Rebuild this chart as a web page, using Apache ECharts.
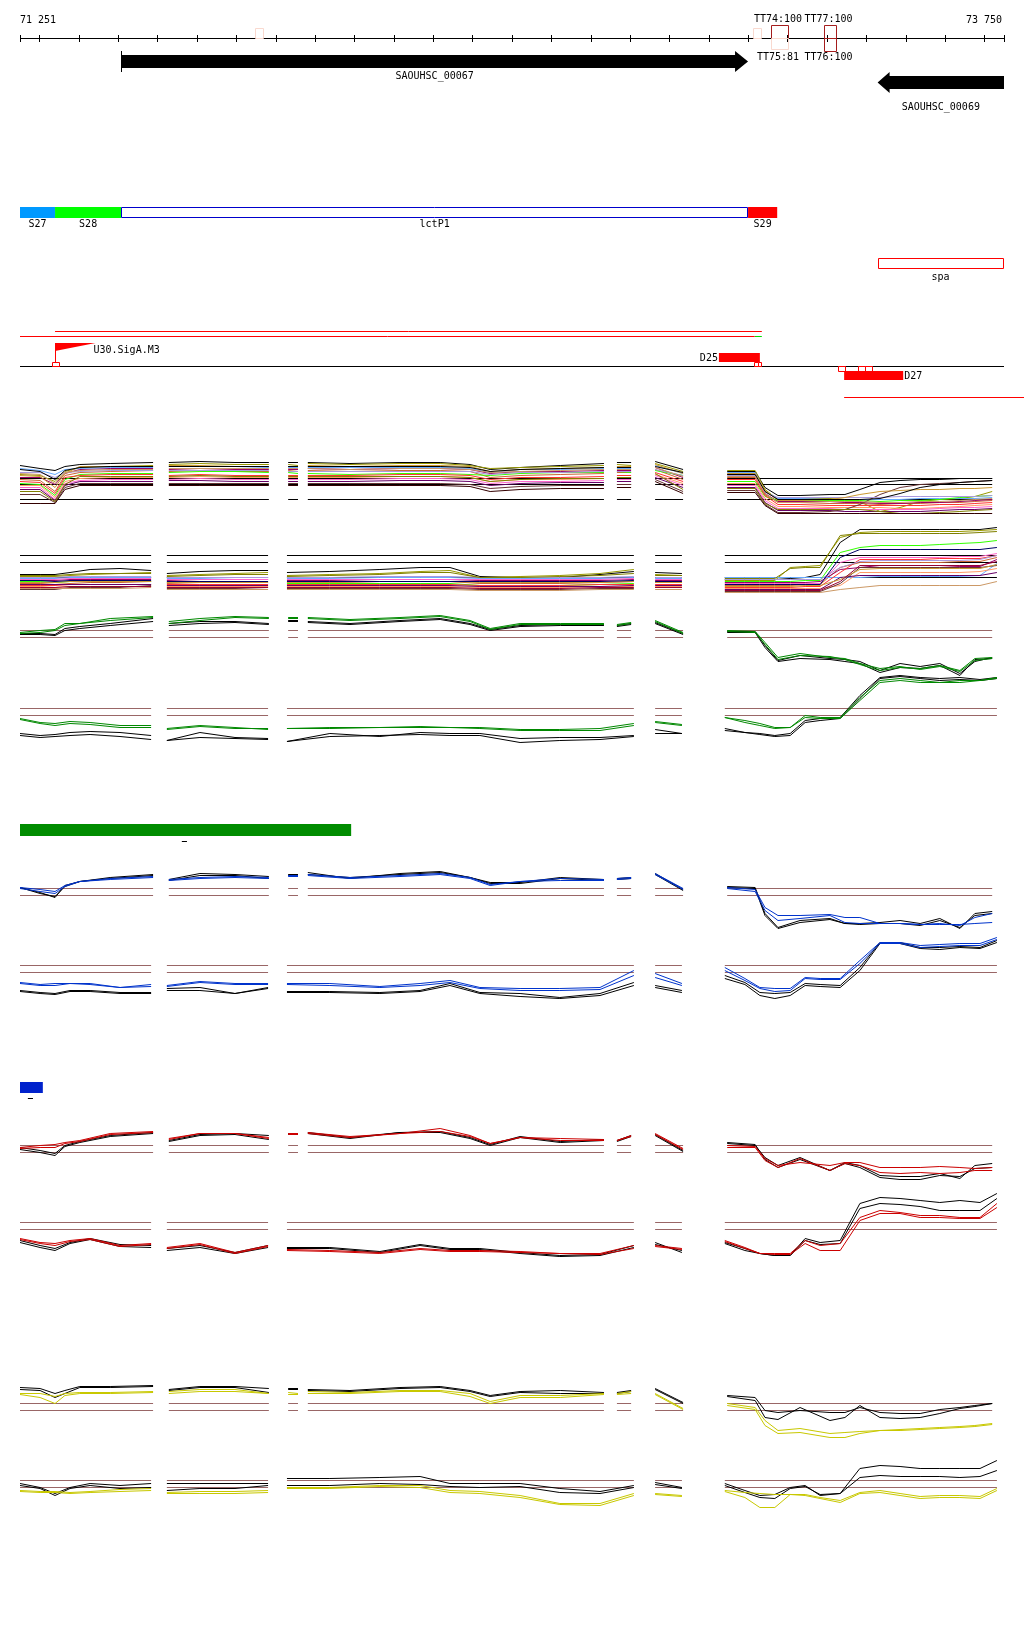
<!DOCTYPE html>
<html><head><meta charset="utf-8">
<script src="https://cdn.jsdelivr.net/npm/echarts@6/dist/echarts.min.js"></script>
<style>html,body{margin:0;padding:0;background:#fff}#c{width:1024px;height:1640px}</style>
</head><body><div id="c"></div><script>
// ---------------- DATA ----------------
const RANGE = [71251, 73750];
const RULER_TICKS = [71251,71300,71400,71500,71600,71700,71800,71900,72000,72100,72200,72300,72400,72500,72600,72700,72800,72900,73000,73100,73200,73300,73400,73500,73600,73700,73750];

const GENE_NAMES = ['SAOUHSC_00067', 'SAOUHSC_00069'];
const GENE_START = [71508, 73429];
const GENE_END = [73100, 73750];
const GENE_STRAND = [1, -1];

const TERM_NAMES = ['', '', 'TT74:100', 'TT75:81', 'TT77:100', 'TT76:100'];
const TERM_START = [71848, 73113, 73158, 73158, 73293, 73293];
const TERM_END = [71868, 73133, 73201, 73201, 73323, 73323];
const TERM_STRAND = [1, 1, 1, -1, 1, -1];
const TERM_SCORE = [67, 67, 100, 81, 100, 100];

const SEG_NAMES = ['S27', 'S28', 'lctP1', 'S29'];
const SEG_START = [71251, 71340, 71508, 73100];
const SEG_END = [71340, 71508, 73100, 73174];

const SPA_NAME = 'spa';
const SPA_RANGE = [73429, 73749];

const ANNOT_LINE_UPPER = [71340, 73135];
const ANNOT_LINE_LOWER = [71251, 73117];
const ANNOT_LINE_TAIL = [73117, 73135];

const PROMOTER_NAME = 'U30.SigA.M3';
const PROMOTER_POS = 71340;

const SITE_START = [71332, 73115, 73124, 73328, 73379, 73397];
const SITE_END = [71349, 73124, 73133, 73346, 73397, 73415];
const SITE_STRAND = [1, 1, 1, -1, -1, -1];

const DMS_NAMES = ['D25', 'D27'];
const DMS_START = [73026, 73344];
const DMS_END = [73130, 73494];
const DMS_STRAND = [1, -1];
const D27_TAIL = [73344, 73801];

const GREEN_BAR = [71251, 72092];
const GREEN_TICK = [71662, 71675];
const BLUE_BAR = [71251, 71309];
const BLUE_TICK = [71271, 71284];

// probe sample positions (bp); segments separated by gaps
const UPPER_X = [71251,71302,71340,71365,71403,71480,71589,
  71629,71708,71797,71883,
  71932,71957,
  71982,72089,72216,72318,72394,72445,72521,72623,72734,
  72767,72803,
  72864,72935,
  73047,73118,73143,73176,73232,73308,73346,73384,73435,73486,73537,73587,73638,73676,73720];
const UPPER_SEG_LEN = [7,4,2,9,2,2,15];
const LOWER_X = [71251,71302,71340,71378,71429,71505,71584,
  71624,71708,71797,71881,
  71929,72038,72165,72267,72343,72419,72521,72622,72724,72810,
  72864,72932,
  73041,73092,73130,73168,73207,73245,73283,73334,73384,73435,73486,73537,73587,73638,73689,73732];
const LOWER_SEG_LEN = [7,4,10,2,16];

// Panel A1 (upper strand, many conditions)
const A1_S01 = [34,31,29,33,35,36,37, 37,38,37,37, 37,37, 37,36,37,37,35,30,32,34,36, 37,37, 38,30, 28,28,12,4,4,5,5,10,17,19,20,20,21,21,21];
const A1_S02 = [25,24,18,28,32,33,34, 35,36,35,35, 35,34, 36,35,36,36,34,31,32,33,34, 35,34, 36,28, 29,29,10,0,1,1,0,-2,-12,-8,-2,0,1,3,8];
const A1_S03 = [20,19,8,24,27,28,29, 28,29,28,28, 29,28, 29,28,29,29,28,22,24,25,26, 27,27, 30,20, 22,22,5,-3,-3,-4,-4,-4,-5,-4,-4,-3,-3,-2,-1];
const A1_S04 = [22,22,15,26,30,31,31, 30,31,30,30, 30,30, 31,30,31,31,30,26,28,28,29, 29,29, 32,22, 25,25,6,-2,-2,-2,-3,-3,-4,-4,-3,-3,-2,-1,0];
const A1_S05 = [31,29,25,30,31,32,32, 33,33,33,32, 32,32, 32,32,32,32,31,27,30,30,31, 31,31, 34,26, 27,27,8,1,1,0,0,0,0,0,1,1,1,1,2];
const A1_S06 = [16,15,4,20,25,26,26, 27,28,28,27, 27,26, 26,25,26,26,25,24,26,27,27, 28,27, 29,24, 18,18,3,-1,-1,-1,-1,-1,-2,-1,-1,0,2,3,4];
const A1_S07 = [18,17,6,22,24,25,25, 24,25,24,24, 24,24, 24,24,25,25,24,20,22,22,23, 24,24, 27,18, 20,20,4,-5,-5,-6,-6,-6,-6,-6,-6,-5,-5,-4,-3];
const A1_S08 = [14,14,2,18,21,22,22, 22,23,22,22, 22,22, 22,22,23,23,22,18,20,20,21, 22,22, 25,16, 16,16,1,-7,-7,-8,-8,-8,-8,-9,-9,-8,-7,-6,-5];
const A1_S09 = [12,12,0,16,19,20,20, 20,21,20,20, 20,20, 20,20,21,21,20,16,18,18,19, 20,20, 24,14, 14,14,-1,-9,-9,-9,-10,-10,-10,-10,-10,-9,-8,-8,-7];
const A1_S10 = [10,10,-1,14,18,18,18, 19,19,18,18, 18,18, 18,18,19,19,18,14,16,17,17, 18,18, 22,12, 12,12,-3,-11,-11,-11,-12,-12,-12,-12,-12,-11,-10,-10,-9];
const A1_S11 = [5,5,-3,12,16,16,16, 16,16,16,16, 16,16, 16,16,16,16,15,11,13,14,14, 15,15, 20,8, 9,9,-5,-13,-13,-12,-10,-5,5,12,15,16,17,18,19];
const A1_S12 = [27,27,22,27,28,29,29, 29,29,29,29, 28,28, 28,28,28,28,28,25,27,27,28, 28,28, 30,24, 24,24,7,2,2,2,2,2,2,3,3,3,3,3,4];
const A1_S13 = [24,23,12,26,33,33,33, 34,34,33,33, 33,33, 34,33,34,34,33,28,30,31,32, 33,33, 35,26, 26,26,9,-1,-1,0,2,5,8,9,10,10,11,11,12];
const A1_S14 = [8,8,-2,15,23,23,23, 23,24,23,23, 23,23, 23,23,23,23,22,18,20,21,21, 22,22, 26,10, 11,11,-4,-10,-10,-10,-10,-10,-12,-14,-14,-13,-12,-11,-10];
const A1_S15 = [-4,-4,-4,10,14,14,14, 14,14,14,14, 14,14, 14,14,14,14,13,8,10,11,11, 12,12, 18,6, 7,7,-6,-14,-14,-14,-14,-14,-14,-14,-14,-14,-14,-14,-14];
const A1_S16 = [30,28,20,29,32,33,33, 33,33,33,33, 33,33, 33,33,33,33,32,28,30,31,32, 32,32, 33,27, 25,25,8,0,0,0,0,0,1,6,12,15,17,18,19];
const A1_S17 = [26,25,16,27,29,30,30, 31,31,31,31, 31,31, 31,30,31,31,30,27,28,29,30, 30,30, 32,23, 23,23,6,-3,-3,-2,-2,-2,-3,-3,-2,-2,-1,0,1];
const A1_REFS = [21, 15, 0];

// Panel A2 (lower strand, many conditions)
const A2_S01 = [3,3,3,5,8,9,7, 4,6,7,7, 5,6,8,10,10,1,0,0,3,6, 5,4, -2,-2,-2,-2,-1,0,3,35,48,48,48,48,48,48,48,50];
const A2_S02 = [1,1,1,2,3,4,5, 2,3,4,5, 2,3,4,6,7,0,1,2,4,8, 3,2, -3,-3,-3,-3,10,11,12,40,45,46,46,46,46,46,47,48];
const A2_S03 = [-6,-6,-7,-6,-5,-5,-4, -6,-5,-5,-5, -5,-5,-4,-4,-4,-6,-6,-6,-5,-4, -5,-5, -8,-8,-8,-8,-8,-7,-7,10,15,15,15,15,15,16,16,20];
const A2_S04 = [-3,-3,-3,-2,-2,-2,-2, -3,-2,-2,-2, -3,-3,-2,-2,-2,-3,-3,-3,-3,-2, -3,-3, -5,-5,-5,-5,-5,-5,-4,8,10,12,12,12,12,11,11,18];
const A2_S05 = [-1,-1,-1,0,0,0,0, -1,-1,0,0, -1,-1,0,0,0,-1,-1,-1,-1,0, -1,-1, 0,0,0,0,0,0,0,0,0,1,1,1,1,1,2,14];
const A2_S06 = [-4,-4,-5,-4,-4,-4,-4, -5,-4,-4,-4, -6,-6,-6,-6,-6,-8,-8,-8,-7,-6, -5,-5, -4,-4,-4,-4,-4,-3,-3,25,30,32,32,32,33,34,35,37];
const A2_S07 = [-8,-8,-8,-7,-7,-7,-7, -7,-7,-7,-7, -7,-7,-7,-7,-7,-8,-8,-8,-7,-7, -7,-7, -10,-10,-10,-10,-10,-9,-9,5,18,18,18,18,19,19,19,22];
const A2_S08 = [-9,-9,-10,-9,-9,-9,-9, -9,-9,-9,-9, -9,-9,-9,-9,-9,-10,-10,-10,-9,-9, -9,-9, -11,-11,-11,-11,-11,-11,-11,-8,5,5,5,5,5,5,6,9];
const A2_S09 = [-2,-2,-2,-1,-1,-1,-1, -2,-2,-2,-2, -2,-2,-2,-2,-2,-2,-2,-2,-2,-1, -2,-2, -6,-6,-6,-6,-6,-6,-6,15,20,20,20,20,20,21,21,24];
const A2_S10 = [-7,-7,-7,-7,-7,-7,-7, -8,-8,-8,-8, -8,-8,-8,-8,-8,-9,-9,-9,-9,-8, -8,-8, -12,-12,-12,-12,-12,-12,-12,0,2,2,2,2,2,2,2,5];
const A2_S11 = [-12,-12,-12,-10,-10,-10,-8, -11,-11,-11,-10, -11,-11,-11,-11,-11,-12,-12,-12,-11,-11, -10,-10, -14,-14,-14,-14,-14,-14,-14,-6,10,10,10,10,10,10,10,12];
const A2_S12 = [0,0,0,1,1,1,1, 0,0,0,0, 0,0,1,1,1,0,0,0,0,1, 0,0, -2,-2,-2,-2,-2,-2,-2,10,16,17,17,17,17,17,18,22];
const A2_S13 = [-5,-5,-5,-4,-4,-4,-4, -5,-5,-5,-5, -5,-5,-4,-4,-4,-5,-5,-5,-5,-4, -5,-5, -9,-9,-9,-9,-9,-8,-8,-2,8,9,9,9,9,9,9,13];
const A2_S14 = [2,2,2,3,4,4,4, 1,2,3,3, 1,2,3,5,5,0,0,1,2,4, 2,2, -1,-1,-1,-1,9,10,10,42,44,44,44,44,44,44,45,46];
const A2_S15 = [-10,-10,-10,-9,-9,-9,-9, -10,-10,-10,-10, -10,-10,-10,-10,-10,-11,-11,-11,-10,-10, -10,-10, -13,-13,-13,-13,-13,-13,-13,-4,12,12,12,12,12,12,12,16];
const A2_S16 = [-11,-11,-11,-11,-11,-11,-10, -12,-12,-12,-12, -12,-12,-12,-12,-12,-13,-13,-13,-12,-12, -12,-12, -15,-15,-15,-15,-15,-15,-15,-12,-10,-8,-8,-8,-8,-8,-8,-4];
const A2_S17 = [-3,-3,-4,-3,-3,-3,-3, -4,-4,-4,-4, -4,-4,-4,-4,-4,-4,-4,-4,-4,-3, -4,-4, -7,-7,-7,-7,-7,-7,-7,20,28,28,28,28,28,28,28,30];
const A2_REFS = [22, 15, 0];

// two-colour panels: thresholds
const THRESH = [7, 0];

// Panel B (green)
const B1_BLACK1 = [4,4,3,9,11,14,19, 14,16,16,14, 17,17, 16,14,17,19,14,8,12,13,13, 12,14, 15,4, 6,6,-8,-23,-18,-21,-22,-24,-33,-26,-29,-26,-36,-24,-20];
const B1_BLACK2 = [3,3,2,7,9,12,16, 12,14,15,13, 16,16, 15,13,16,18,13,7,11,12,12, 11,13, 14,3, 5,5,-10,-24,-21,-22,-24,-26,-35,-30,-31,-28,-38,-22,-21];
const B1_COL1 = [5,7,8,14,14,19,21, 16,19,21,20, 20,20, 20,18,20,22,17,9,14,14,14, 13,15, 17,5, 7,6,-5,-20,-16,-20,-21,-26,-31,-29,-32,-29,-34,-23,-21];
const B1_COL2 = [4,5,7,12,14,17,20, 14,17,20,19, 19,19, 19,17,19,21,16,8,13,13,13, 12,14, 16,4, 6,5,-7,-22,-18,-19,-22,-27,-33,-30,-31,-28,-33,-21,-20];
const B2_BLACK1 = [-18,-20,-19,-17,-16,-17,-20, -25,-17,-22,-23, -26,-18,-21,-17,-18,-18,-23,-22,-22,-20, -14,-18, -13,-17,-18,-20,-18,-5,-3,-2,20,38,40,38,37,38,36,38];
const B2_BLACK2 = [-20,-22,-21,-20,-19,-21,-24, -25,-22,-23,-24, -26,-21,-20,-19,-20,-20,-27,-25,-24,-21, -18,-18, -15,-17,-19,-21,-20,-7,-5,-3,17,37,39,37,35,36,35,37];
const B2_COL1 = [-3,-7,-8,-6,-7,-10,-10, -13,-10,-12,-14, -13,-12,-12,-11,-12,-12,-14,-14,-13,-8, -6,-9, -2,-5,-8,-12,-12,0,-2,-2,18,35,37,35,33,35,35,38];
const B2_COL2 = [-4,-8,-10,-8,-9,-12,-12, -14,-11,-13,-13, -13,-13,-12,-12,-12,-13,-15,-15,-15,-10, -7,-10, -2,-7,-10,-13,-12,-2,-3,-3,15,33,35,33,33,33,35,37];

// Panel C (blue)
const C1_BLACK1 = [8,3,-2,10,14,18,21, 16,22,21,19, 21,21, 23,17,22,24,18,13,13,18,16, 17,18, 22,6, 9,8,-18,-32,-25,-23,-28,-28,-27,-25,-28,-23,-33,-18,-16];
const C1_BLACK2 = [8,2,-1,9,14,17,20, 15,20,20,17, 20,20, 21,18,21,23,18,12,12,17,15, 16,17, 21,5, 8,7,-20,-33,-27,-24,-28,-29,-28,-28,-30,-25,-32,-20,-18];
const C1_COL1 = [8,6,4,10,14,17,19, 16,18,19,18, 20,20, 21,18,20,22,18,11,14,17,16, 17,18, 22,7, 8,6,-12,-20,-20,-19,-22,-22,-28,-28,-29,-29,-29,-28,-27];
const C1_COL2 = [7,4,2,9,14,16,18, 15,17,18,17, 19,19, 20,17,19,21,17,10,14,15,15, 16,17, 21,6, 7,4,-15,-25,-23,-20,-27,-28,-28,-28,-29,-28,-30,-22,-18];
const C2_BLACK1 = [-18,-20,-21,-18,-18,-20,-20, -16,-15,-21,-15, -19,-19,-20,-18,-11,-20,-21,-25,-21,-10, -13,-18, -3,-10,-20,-21,-20,-11,-12,-13,5,30,30,25,25,26,25,32];
const C2_BLACK2 = [-19,-21,-22,-19,-19,-21,-21, -18,-18,-21,-16, -20,-20,-21,-19,-13,-21,-24,-26,-23,-13, -15,-20, -6,-12,-23,-26,-23,-13,-14,-15,2,29,29,24,23,25,24,30];
const C2_COL1 = [-10,-12,-11,-11,-11,-15,-12, -13,-9,-11,-11, -11,-11,-14,-11,-8,-15,-16,-16,-15,2, -1,-11, 5,-6,-15,-16,-16,-5,-6,-6,12,30,30,27,28,29,29,35];
const C2_COL2 = [-11,-13,-13,-11,-12,-15,-14, -14,-10,-12,-12, -12,-13,-15,-13,-10,-16,-18,-18,-17,-3, -5,-13, 2,-8,-16,-19,-18,-6,-7,-7,9,29,29,25,26,27,27,33];

// Panel D (red)
const D1_BLACK1 = [5,2,-1,7,11,17,20, 12,18,19,17, 19,19, 20,15,20,21,15,8,16,11,13, 12,17, 18,2, 9,7,-5,-13,-5,-18,-10,-13,-23,-24,-24,-21,-26,-13,-11];
const D1_BLACK2 = [3,0,-3,6,10,16,19, 11,17,18,13, 18,18, 19,14,20,20,14,7,15,10,12, 11,16, 17,1, 10,8,-7,-15,-7,-18,-11,-15,-25,-27,-27,-23,-24,-16,-15];
const D1_COL1 = [5,7,8,10,12,19,21, 14,19,19,15, 19,19, 20,16,19,24,17,9,15,14,13, 12,17, 19,4, 7,6,-6,-13,-10,-13,-10,-10,-15,-15,-15,-14,-15,-16,-15];
const D1_COL2 = [4,5,5,9,11,18,20, 13,19,19,14, 18,18, 19,15,19,21,16,9,15,12,12, 12,16, 18,3, 5,5,-8,-15,-6,-18,-11,-13,-20,-21,-20,-21,-20,-18,-18];
const D2_BLACK1 = [-11,-16,-19,-13,-9,-15,-16, -19,-16,-23,-16, -18,-18,-22,-15,-19,-19,-23,-26,-25,-16, -13,-23, -13,-19,-24,-26,-26,-9,-13,-11,26,32,31,29,27,29,27,36];
const D2_BLACK2 = [-13,-18,-21,-14,-10,-17,-18, -21,-18,-24,-18, -19,-19,-23,-16,-20,-20,-24,-27,-26,-18, -15,-21, -14,-21,-24,-26,-26,-11,-15,-14,21,26,25,23,19,19,19,31];
const D2_COL1 = [-9,-13,-14,-11,-9,-16,-14, -18,-14,-23,-16, -20,-21,-23,-19,-21,-21,-22,-24,-24,-16, -16,-19, -11,-18,-24,-24,-24,-11,-16,-14,12,19,17,14,14,12,12,26];
const D2_COL2 = [-10,-14,-16,-12,-10,-17,-15, -19,-15,-24,-17, -21,-22,-24,-20,-22,-22,-23,-24,-25,-19, -17,-20, -12,-19,-24,-25,-25,-14,-21,-21,9,16,16,12,12,11,11,22];

// Panel E (yellow)
const E1_BLACK1 = [23,22,17,20,24,24,25, 21,24,24,22, 22,22, 21,20,23,24,20,15,19,20,18, 18,20, 22,8, 15,13,0,-2,0,-2,-2,3,-2,-3,-3,1,3,5,7];
const E1_BLACK2 = [21,20,13,17,23,23,24, 20,23,23,18, 21,21, 20,19,22,23,19,14,18,17,17, 17,19, 21,7, 14,10,-7,-9,3,-10,-7,5,-7,-8,-7,-3,2,4,7];
const E1_COL1 = [17,17,14,17,18,18,19, 19,21,21,17, 18,17, 19,18,20,20,17,9,15,15,17, 17,19, 17,2, 7,3,-10,-20,-18,-23,-22,-21,-20,-19,-18,-17,-16,-15,-13];
const E1_COL2 = [16,13,7,15,17,17,18, 17,19,19,17, 16,16, 17,17,19,19,14,7,13,13,16, 16,17, 16,1, 5,1,-15,-23,-22,-27,-27,-23,-20,-20,-19,-18,-17,-16,-14];
const E2_BLACK1 = [4,0,-6,0,4,2,4, 4,4,4,4, 9,9,10,11,4,4,4,-1,-4,2, 5,0, 4,-3,-8,-7,0,2,-8,-6,19,22,21,19,19,19,19,27];
const E2_BLACK2 = [2,-1,-8,-1,2,-1,0, -3,-1,-1,2, 2,2,4,3,1,0,1,-5,-6,0, 3,-1, 2,-5,-10,-11,-1,1,-7,-6,10,12,11,11,11,10,11,17];
const E2_COL1 = [-3,-4,-4,-5,-4,-2,-1, -5,-4,-4,-3, 0,0,2,2,-3,-4,-8,-16,-16,-6, -6,-8, -3,-5,-6,-7,-7,-7,-10,-13,-5,-3,-6,-9,-8,-8,-9,-1];
const E2_COL2 = [-4,-5,-5,-6,-5,-4,-3, -6,-6,-6,-5, -1,-1,1,0,-5,-6,-10,-17,-18,-8, -7,-9, -4,-10,-20,-20,-7,-8,-11,-15,-6,-5,-8,-11,-10,-10,-11,-3];

// ---------------- STYLE / LAYOUT ----------------
const A1_COLORS = ['#000000','#999900','#cc6633','#990066','#66aaff','#33ff00','#ff3333','#ff9966','#ff66cc','#660066','#663333','#aa99dd','#cc9933','#808000','#330000','#000000','#cc9966'];
const A2_COLORS = ['#000000','#999900','#cc6633','#990066','#66aaff','#33ff00','#ff3333','#ff9966','#ff66cc','#660066','#663333','#aa99dd','#cc9933','#808000','#990033','#cc9966','#000066'];
const BROWN = '#996666';
const FONT = '10px "DejaVu Sans Mono", monospace';
const TERM_LABEL_SHIFT = -2;

const PANELS = [
  {base: 499, min: -20, max: 45, xs: 'U', lines: [A1_S01,A1_S02,A1_S03,A1_S04,A1_S05,A1_S06,A1_S07,A1_S08,A1_S09,A1_S10,A1_S11,A1_S12,A1_S13,A1_S14,A1_S15,A1_S16,A1_S17], colors: A1_COLORS, refs: A1_REFS, refColor: '#000'},
  {base: 577, min: -20, max: 55, xs: 'L', lines: [A2_S01,A2_S02,A2_S03,A2_S04,A2_S05,A2_S06,A2_S07,A2_S08,A2_S09,A2_S10,A2_S11,A2_S12,A2_S13,A2_S14,A2_S15,A2_S16,A2_S17], colors: A2_COLORS, refs: A2_REFS, refColor: '#000'},
  {base: 637, min: -40, max: 25, xs: 'U', lines: [B1_BLACK1,B1_BLACK2,B1_COL1,B1_COL2], colors: ['#000','#000','#008800','#008800'], refs: THRESH, refColor: BROWN},
  {base: 715, min: -30, max: 45, xs: 'L', lines: [B2_BLACK1,B2_BLACK2,B2_COL1,B2_COL2], colors: ['#000','#000','#008800','#008800'], refs: THRESH, refColor: BROWN},
  {base: 895, min: -35, max: 25, xs: 'U', lines: [C1_BLACK1,C1_BLACK2,C1_COL1,C1_COL2], colors: ['#000','#000','#0033cc','#0033cc'], refs: THRESH, refColor: BROWN},
  {base: 972, min: -30, max: 40, xs: 'L', lines: [C2_BLACK1,C2_BLACK2,C2_COL1,C2_COL2], colors: ['#000','#000','#0033cc','#0033cc'], refs: THRESH, refColor: BROWN},
  {base: 1152, min: -30, max: 25, xs: 'U', lines: [D1_BLACK1,D1_BLACK2,D1_COL1,D1_COL2], colors: ['#000','#000','#cc0000','#cc0000'], refs: THRESH, refColor: BROWN},
  {base: 1229, min: -30, max: 40, xs: 'L', lines: [D2_BLACK1,D2_BLACK2,D2_COL1,D2_COL2], colors: ['#000','#000','#cc0000','#cc0000'], refs: THRESH, refColor: BROWN},
  {base: 1410, min: -30, max: 30, xs: 'U', lines: [E1_BLACK1,E1_BLACK2,E1_COL1,E1_COL2], colors: ['#000','#000','#c8c800','#c8c800'], refs: THRESH, refColor: BROWN},
  {base: 1487, min: -25, max: 30, xs: 'L', lines: [E2_BLACK1,E2_BLACK2,E2_COL1,E2_COL2], colors: ['#000','#000','#c8c800','#c8c800'], refs: THRESH, refColor: BROWN}
];

// ---------------- BUILD ----------------
function buildLine(xs, segLen, ys) {
  if (ys.length !== xs.length) throw new Error('length mismatch ' + ys.length + ' vs ' + xs.length + ' first=' + ys.slice(0,3));
  const out = []; let i = 0;
  segLen.forEach((n, k) => {
    if (k > 0) out.push([(xs[i - 1] + xs[i]) / 2, '-']);
    for (let j = 0; j < n; j++, i++) out.push([xs[i], ys[i]]);
  });
  return out;
}
function buildRef(xs, segLen, v) {
  const out = []; let i = 0;
  segLen.forEach((n, k) => {
    if (k > 0) out.push([(xs[i - 1] + xs[i]) / 2, '-']);
    out.push([xs[i], v]); out.push([xs[i + n - 1], v]);
    i += n;
  });
  return out;
}
const fmt = n => String(n).replace(/\B(?=(\d{3})+(?!\d))/g, ' ');

function renderTracks(params, api) {
  const X = p => api.coord([p, 0])[0];
  const C = p => Math.round(X(p)) + 0.5;
  const ch = [];
  const txt = (t, x, y, align) => ch.push({type: 'text', style: {text: t, x: x, y: y, fill: '#000', font: FONT, align: align, verticalAlign: 'middle', textAlign: align, textVerticalAlign: 'middle'}});
  const ln = (x1, y1, x2, y2, color) => ch.push({type: 'line', shape: {x1, y1, x2, y2}, style: {stroke: color, lineWidth: 1}});
  const rc = (x1, y1, x2, y2, fill, stroke) => ch.push({type: 'rect', shape: {x: x1, y: y1, width: x2 - x1, height: y2 - y1}, style: {fill: fill || 'none', stroke: stroke || null, lineWidth: 1}});
  const poly = (pts, fill) => ch.push({type: 'polygon', shape: {points: pts}, style: {fill: fill}});

  // ruler
  ln(X(RANGE[0]), 38.5, X(RANGE[1]), 38.5, '#000');
  RULER_TICKS.forEach(t => ln(C(t), 35, C(t), 42, '#000'));
  txt(fmt(RANGE[0]), X(RANGE[0]), 20, 'left');
  txt(fmt(RANGE[1]), X(RANGE[1]) - 2, 20, 'right');

  // terminators
  TERM_NAMES.forEach((n, i) => {
    const x1 = Math.round(X(TERM_START[i])) + 0.5, x2 = Math.round(X(TERM_END[i])) + 0.5;
    const h = Math.round(4 + 9 * TERM_SCORE[i] / 100);
    const col = TERM_SCORE[i] >= 100 ? '#a51d1d' : '#f9d9cf';
    const cx = (x1 + x2) / 2 + TERM_LABEL_SHIFT;
    if (TERM_STRAND[i] > 0) { rc(x1, 38.5 - h, x2, 38.5, null, col); if (n) txt(n, cx, 19, 'center'); }
    else { rc(x1, 38.5, x2, 38.5 + h, null, col); if (n) txt(n, cx, 57, 'center'); }
  });

  // genes
  GENE_NAMES.forEach((n, i) => {
    const x1 = X(GENE_START[i]), x2 = X(GENE_END[i]);
    if (GENE_STRAND[i] > 0) {
      const xh = x2 - 13;
      poly([[x1, 55], [xh, 55], [xh, 51], [x2, 61.5], [xh, 72], [xh, 68], [x1, 68]], '#000');
      ln(Math.round(x1) + 0.5, 51, Math.round(x1) + 0.5, 72, '#000');
      txt(n, (x1 + x2) / 2, 76, 'center');
    } else {
      const xh = x1 + 12;
      poly([[x2, 76], [xh, 76], [xh, 72], [x1, 82.5], [xh, 93], [xh, 89], [x2, 89]], '#000');
      txt(n, (x1 + x2) / 2, 107, 'center');
    }
  });

  // segments
  const segFill = ['#0099ff', '#00ff00', '#ffffff', '#ff0000'];
  SEG_NAMES.forEach((n, i) => {
    const x1 = X(SEG_START[i]), x2 = X(SEG_END[i]);
    if (n === 'lctP1') rc(Math.round(x1) + 0.5, 207.5, Math.round(x2) - 0.5, 217.5, '#fff', '#0000cc');
    else rc(x1, 207, x2, 218, segFill[i]);
    txt(n, (x1 + x2) / 2, 224, 'center');
  });
  rc(C(SPA_RANGE[0]), 258.5, Math.round(X(SPA_RANGE[1])) - 0.5, 268.5, null, '#ff0000');
  txt(SPA_NAME, (X(SPA_RANGE[0]) + X(SPA_RANGE[1])) / 2, 277, 'center');

  // annotation lines
  ln(X(ANNOT_LINE_UPPER[0]), 331.5, X(ANNOT_LINE_UPPER[1]), 331.5, '#ff0000');
  ln(X(ANNOT_LINE_LOWER[0]), 336.5, X(ANNOT_LINE_LOWER[1]), 336.5, '#ff0000');
  ln(X(ANNOT_LINE_TAIL[0]), 336.5, X(ANNOT_LINE_TAIL[1]), 336.5, '#00dd00');

  // baseline + promoter + sites + DMS
  ln(X(RANGE[0]), 366.5, X(RANGE[1]), 366.5, '#000');
  const px = C(PROMOTER_POS);
  ln(px, 343, px, 366, '#ff0000');
  poly([[px - 0.5, 343], [px + 40, 343], [px - 0.5, 351]], '#ff0000');
  txt(PROMOTER_NAME, px + 38, 350, 'left');
  SITE_START.forEach((s, i) => {
    const x1 = C(s), x2 = C(SITE_END[i]);
    if (SITE_STRAND[i] > 0) rc(x1, 362.5, x2, 366.5, '#fff', '#ff0000');
    else rc(x1, 366.5, x2, 371.5, '#fff', '#ff0000');
  });
  DMS_NAMES.forEach((n, i) => {
    const x1 = X(DMS_START[i]), x2 = X(DMS_END[i]);
    if (DMS_STRAND[i] > 0) { rc(x1, 353, x2, 362, '#ff0000'); txt(n, x1 - 1, 358, 'right'); }
    else { rc(x1, 371, x2, 380, '#ff0000'); txt(n, x2 + 1, 376, 'left'); }
  });
  ln(X(D27_TAIL[0]), 397.5, X(D27_TAIL[1]), 397.5, '#ff0000');

  // group colour keys
  rc(X(GREEN_BAR[0]), 824, X(GREEN_BAR[1]), 836, '#008c00');
  ln(X(GREEN_TICK[0]), 841.5, X(GREEN_TICK[1]), 841.5, '#000');
  rc(X(BLUE_BAR[0]), 1082, X(BLUE_BAR[1]), 1093, '#0022cc');
  ln(X(BLUE_TICK[0]), 1098.5, X(BLUE_TICK[1]), 1098.5, '#000');

  return {type: 'group', children: ch};
}

const grids = [{left: 20, right: 20, top: 0, height: 1640}];
const xAxes = [{type: 'value', gridIndex: 0, min: RANGE[0], max: RANGE[1], show: false}];
const yAxes = [{type: 'value', gridIndex: 0, min: 0, max: 1640, inverse: true, show: false}];
const series = [{type: 'custom', xAxisIndex: 0, yAxisIndex: 0, data: [[RANGE[0], 0]], renderItem: renderTracks, silent: true, clip: false, z: 5}];

PANELS.forEach((p, k) => {
  const gi = k + 1;
  // half-pixel offset so integer values fall on crisp 1px rows
  grids.push({left: 20, right: 20, top: p.base - p.max + 0.5, height: p.max - p.min});
  xAxes.push({type: 'value', gridIndex: gi, min: RANGE[0], max: RANGE[1], show: false});
  yAxes.push({type: 'value', gridIndex: gi, min: p.min, max: p.max, show: false});
  const xs = p.xs === 'U' ? UPPER_X : LOWER_X;
  const sl = p.xs === 'U' ? UPPER_SEG_LEN : LOWER_SEG_LEN;
  const common = {type: 'line', xAxisIndex: gi, yAxisIndex: gi, showSymbol: false, symbol: 'none', silent: true, animation: false, connectNulls: false};
  p.refs.forEach(v => series.push(Object.assign({}, common, {data: buildRef(xs, sl, v), lineStyle: {color: p.refColor, width: 1}, z: 2})));
  p.lines.forEach((ys, j) => series.push(Object.assign({}, common, {data: buildLine(xs, sl, ys), lineStyle: {color: p.colors[j], width: 1}, z: 3})));
});

const chart = echarts.init(document.getElementById('c'), null, {renderer: 'canvas'});
chart.setOption({animation: false, backgroundColor: '#fff', grid: grids, xAxis: xAxes, yAxis: yAxes, series: series});
</script></body></html>
